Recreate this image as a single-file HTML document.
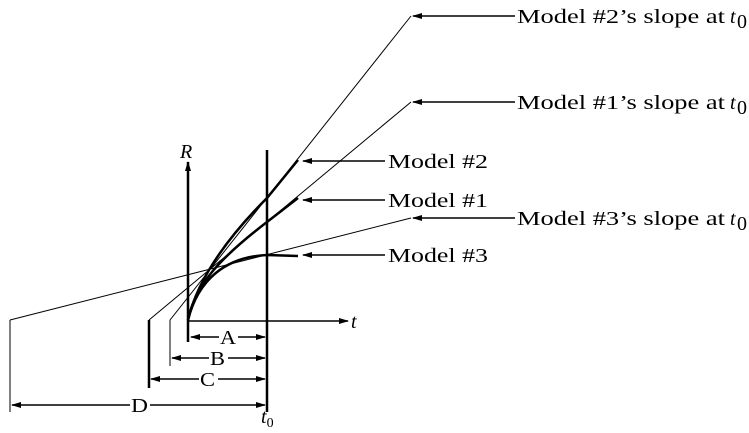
<!DOCTYPE html>
<html><head><meta charset="utf-8"><style>
html,body{margin:0;padding:0;background:#fff;}
svg{display:block;}
text{font-family:"Liberation Serif",serif;font-size:20px;fill:#000;}
</style></head><body>
<svg width="749" height="433" viewBox="0 0 749 433" xmlns="http://www.w3.org/2000/svg">
<defs>
<marker id="a" markerWidth="10" markerHeight="6" refX="9" refY="3" orient="auto" markerUnits="userSpaceOnUse">
<path d="M0,0 L10,3 L0,6 z" fill="#000"/></marker>
</defs>
<g stroke="#000" fill="none">
<line x1="188" y1="342" x2="188" y2="162" stroke-width="2.5" marker-end="url(#a)"/>
<line x1="188" y1="321" x2="348" y2="321" stroke-width="1.5" marker-end="url(#a)"/>
<line x1="267" y1="150" x2="267" y2="412" stroke-width="2.5"/>
<line x1="170" y1="320" x2="170" y2="366" stroke-width="1"/>
<line x1="149" y1="320" x2="149" y2="388" stroke-width="2.5"/>
<line x1="10" y1="320" x2="10" y2="412" stroke-width="1"/>
<line x1="170" y1="320" x2="411" y2="16" stroke-width="1"/>
<line x1="149" y1="320" x2="411" y2="102" stroke-width="1"/>
<line x1="10" y1="320" x2="411" y2="218" stroke-width="1"/>
<path d="M188,320 C195,290 215,250 267,198 L298,160" stroke-width="2.5"/>
<path d="M188,320 C195,285 220,258 267,222 L298,198" stroke-width="2.5"/>
<path d="M188,320 C198,280 225,257 267,255 L298,256" stroke-width="2.5"/>
<line x1="228" y1="337" x2="191" y2="337" stroke-width="1.5" marker-end="url(#a)"/>
<line x1="228" y1="337" x2="265" y2="337" stroke-width="1.5" marker-end="url(#a)"/>
<line x1="218" y1="358" x2="172" y2="358" stroke-width="1.5" marker-end="url(#a)"/>
<line x1="218" y1="358" x2="265" y2="358" stroke-width="1.5" marker-end="url(#a)"/>
<line x1="208" y1="379" x2="151" y2="379" stroke-width="1.5" marker-end="url(#a)"/>
<line x1="208" y1="379" x2="265" y2="379" stroke-width="1.5" marker-end="url(#a)"/>
<line x1="140" y1="405" x2="12" y2="405" stroke-width="1.5" marker-end="url(#a)"/>
<line x1="140" y1="405" x2="265" y2="405" stroke-width="1.5" marker-end="url(#a)"/>
<line x1="515" y1="16" x2="413" y2="16" stroke-width="1.5" marker-end="url(#a)"/>
<line x1="515" y1="102" x2="413" y2="102" stroke-width="1.5" marker-end="url(#a)"/>
<line x1="515" y1="218" x2="413" y2="218" stroke-width="1.5" marker-end="url(#a)"/>
<line x1="385" y1="161" x2="303" y2="161" stroke-width="1.5" marker-end="url(#a)"/>
<line x1="385" y1="200" x2="303" y2="200" stroke-width="1.5" marker-end="url(#a)"/>
<line x1="385" y1="255" x2="303" y2="255" stroke-width="1.5" marker-end="url(#a)"/>
</g>
<g>
<rect x="219" y="327" width="19" height="20" fill="#fff"/>
<rect x="209" y="348" width="19" height="20" fill="#fff"/>
<rect x="199" y="369" width="19" height="20" fill="#fff"/>
<rect x="130" y="395" width="20" height="20" fill="#fff"/>
<text x="220" y="344" textLength="16" lengthAdjust="spacingAndGlyphs">A</text>
<text x="210" y="365" textLength="15" lengthAdjust="spacingAndGlyphs">B</text>
<text x="200" y="386" textLength="15" lengthAdjust="spacingAndGlyphs">C</text>
<text x="131" y="412" textLength="17" lengthAdjust="spacingAndGlyphs">D</text>
<text x="180" y="158" font-style="italic">R</text>
<text x="351" y="328" font-style="italic">t</text>
<text x="261" y="423" font-style="italic">t<tspan font-style="normal" font-size="14" dy="4">0</tspan></text>
<text x="388" y="168" textLength="100" lengthAdjust="spacingAndGlyphs">Model #2</text>
<text x="388" y="207" textLength="100" lengthAdjust="spacingAndGlyphs">Model #1</text>
<text x="388" y="262" textLength="100" lengthAdjust="spacingAndGlyphs">Model #3</text>
<text x="517" y="23" textLength="208" lengthAdjust="spacingAndGlyphs">Model #2’s slope at</text>
<text x="730" y="23" font-style="italic">t</text><text x="737" y="28" font-size="14">0</text>
<text x="517" y="109" textLength="208" lengthAdjust="spacingAndGlyphs">Model #1’s slope at</text>
<text x="730" y="109" font-style="italic">t</text><text x="737" y="114" font-size="14">0</text>
<text x="517" y="225" textLength="208" lengthAdjust="spacingAndGlyphs">Model #3’s slope at</text>
<text x="730" y="225" font-style="italic">t</text><text x="737" y="230" font-size="14">0</text>
</g>
</svg>
</body></html>
